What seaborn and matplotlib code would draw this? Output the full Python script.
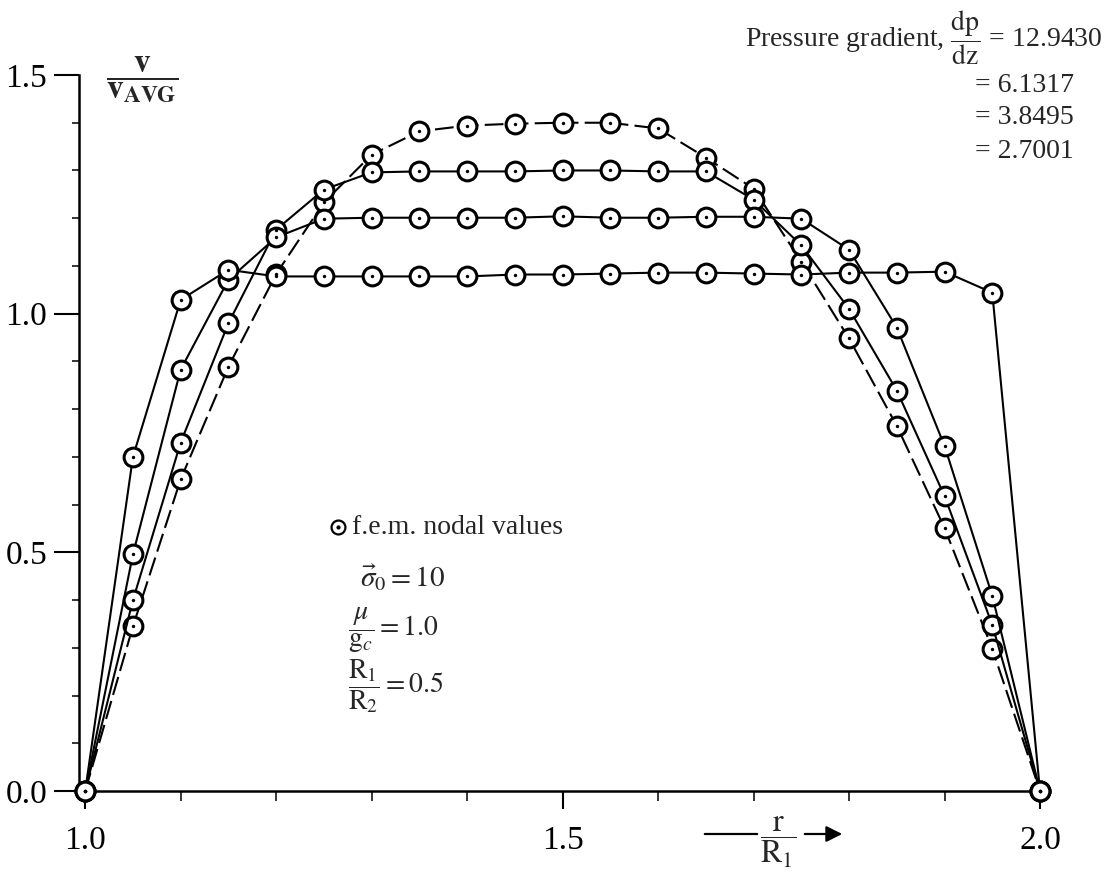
import numpy as np
import pandas as pd
import matplotlib
matplotlib.use("Agg")
import matplotlib.pyplot as plt
import seaborn as sns

# ---------------- data ----------------
r_over_R1 = [1.00, 1.05, 1.10, 1.15, 1.20, 1.25, 1.30, 1.35, 1.40, 1.45, 1.50,
             1.55, 1.60, 1.65, 1.70, 1.75, 1.80, 1.85, 1.90, 1.95, 2.00]

v_dp_12_9430 = [0.0, 0.345, 0.653, 0.889, 1.083, 1.233, 1.333, 1.382, 1.394, 1.398, 1.400,
                1.400, 1.388, 1.327, 1.262, 1.109, 0.948, 0.765, 0.551, 0.298, 0.0]
v_dp_6_1317 = [0.0, 0.400, 0.730, 0.980, 1.176, 1.260, 1.296, 1.298, 1.298, 1.298, 1.300,
               1.300, 1.298, 1.298, 1.239, 1.143, 1.010, 0.839, 0.618, 0.348, 0.0]
v_dp_3_8495 = [0.0, 0.496, 0.883, 1.071, 1.160, 1.199, 1.201, 1.201, 1.201, 1.201, 1.204,
               1.201, 1.201, 1.203, 1.203, 1.199, 1.134, 0.971, 0.723, 0.409, 0.0]
v_dp_2_7001 = [0.0, 0.700, 1.029, 1.092, 1.078, 1.078, 1.078, 1.078, 1.078, 1.082, 1.082,
               1.084, 1.086, 1.086, 1.084, 1.082, 1.086, 1.086, 1.088, 1.044, 0.0]

series = {"12.9430": v_dp_12_9430, "6.1317": v_dp_6_1317,
          "3.8495": v_dp_3_8495, "2.7001": v_dp_2_7001}
pressure_labels = ["12.9430", "6.1317", "3.8495", "2.7001"]

x_ticks = [1.0, 1.5, 2.0]
x_ticklabels = ["1.0", "1.5", "2.0"]
y_ticks = [0.0, 0.5, 1.0, 1.5]
y_ticklabels = ["0.0", "0.5", "1.0", "1.5"]

# ---------------- style ----------------
sns.set_theme(style="white")
plt.rcParams["font.family"] = ["Liberation Serif", "DejaVu Serif"]
plt.rcParams["mathtext.fontset"] = "stix"

W, H = 1109, 876
fig = plt.figure(figsize=(W / 100, H / 100), dpi=100)
fig.patch.set_facecolor("white")


def fp(x, y):
    return x / W, 1 - y / H


ax = fig.add_axes([79 / W, 1 - 791 / H, (1040 - 79) / W, (791 - 75) / H])
ax.set_facecolor("white")

styles = {"12.9430": (0, (9, 3)), "6.1317": "-", "3.8495": "-", "2.7001": "-"}

for key in pressure_labels:
    df = pd.DataFrame({"x": r_over_R1, "v": series[key]})
    sns.lineplot(data=df, x="x", y="v", ax=ax, estimator=None, sort=False,
                 color="black", lw=1.5, linestyle=styles[key], clip_on=False,
                 marker="o", markersize=13.5, markerfacecolor="white",
                 markeredgecolor="black", markeredgewidth=2.2, zorder=3)
    sns.scatterplot(data=df, x="x", y="v", ax=ax, color="black", s=6,
                    linewidth=0, clip_on=False, zorder=4, legend=False)

ax.set_xlim(0.9935, 2.0)
ax.set_ylim(0.0, 1.5)
ax.set_xlabel("")
ax.set_ylabel("")

for s in ["top", "right"]:
    ax.spines[s].set_visible(False)
for s in ["left", "bottom"]:
    ax.spines[s].set_color("black")
    ax.spines[s].set_linewidth(1.8)

ax.set_xticks(x_ticks)
ax.set_xticklabels(x_ticklabels)
ax.set_xticks(np.arange(1.1, 2.0, 0.1), minor=True)
ax.set_yticks(y_ticks)
ax.set_yticklabels(y_ticklabels)
ax.set_yticks(np.arange(0.1, 1.5, 0.1), minor=True)
ax.tick_params(axis="x", which="major", direction="out", length=13, width=1.5,
               pad=12, labelsize=24, colors="black", bottom=True)
ax.tick_params(axis="x", which="minor", direction="out", length=7, width=1.3,
               bottom=True)
ax.tick_params(axis="y", which="major", direction="out", length=18, width=1.5,
               pad=5, labelsize=24, colors="black", left=True)
ax.tick_params(axis="y", which="minor", direction="out", length=5, width=1.3,
               left=True)

# ---------------- annotations ----------------
fig.text(*fp(142, 80), r"$\dfrac{\mathbf{v}}{\mathbf{v}_{\mathbf{AVG}}}$",
         fontsize=24, ha="center", va="center")

fig.text(*fp(1103, 38),
         r"Pressure gradient, $\dfrac{\mathrm{dp}}{\mathrm{dz}}$ = " + pressure_labels[0],
         fontsize=20, ha="right", va="center")
for i, lab in enumerate(pressure_labels[1:]):
    fig.text(*fp(975, 85 + 33 * i), "= " + lab, fontsize=20, ha="left", va="center")

# legend symbol and text
ax.plot([fp(338, 527)[0]], [fp(338, 527)[1]], transform=fig.transFigure,
        marker="o", ms=10, mfc="white", mec="black", mew=1.6, clip_on=False)
ax.plot([fp(338, 527)[0]], [fp(338, 527)[1]], transform=fig.transFigure,
        marker="o", ms=2, color="black", clip_on=False)
fig.text(*fp(352, 527), "f.e.m. nodal values", fontsize=20, ha="left", va="center")

fig.text(*fp(360, 578), r"$\vec{\sigma}_0 = 10$", fontsize=21, ha="left", va="center")
fig.text(*fp(348, 630), r"$\dfrac{\mu}{\mathrm{g}_c} = 1.0$", fontsize=20,
         ha="left", va="center")
fig.text(*fp(348, 686), r"$\dfrac{\mathrm{R}_1}{\mathrm{R}_2} = 0.5$", fontsize=20,
         ha="left", va="center")

# x-axis label with arrow
ax.annotate("", xy=fp(760, 834), xytext=fp(702, 834), xycoords="figure fraction",
            textcoords="figure fraction",
            arrowprops=dict(arrowstyle="-", color="black", lw=1.6))
fig.text(*fp(778, 842), r"$\dfrac{\mathrm{r}}{\mathrm{R}_1}$", fontsize=23,
         ha="center", va="center")
ax.annotate("", xy=fp(845, 834), xytext=fp(802, 834), xycoords="figure fraction",
            textcoords="figure fraction",
            arrowprops=dict(arrowstyle="-|>,head_length=0.8,head_width=0.4",
                            color="black", lw=1.6))

fig.savefig("out.png", dpi=100, facecolor="white")
